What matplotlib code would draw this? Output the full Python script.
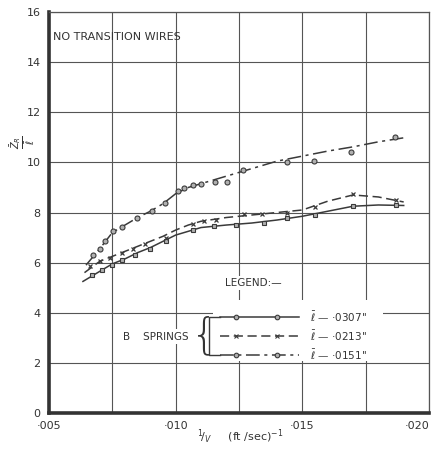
import matplotlib
matplotlib.use('Agg')
import matplotlib.pyplot as plt
from matplotlib.patches import Rectangle
from matplotlib.ticker import MultipleLocator, FuncFormatter

# кривые (1/V, Z_R/l)
curve_a_x = [0.00634, 0.0070, 0.0075, 0.0080, 0.0085, 0.0090, 0.0095, 0.0100, 0.0105, 0.0110,
             0.0120, 0.0130, 0.0140, 0.0150, 0.0160, 0.0170, 0.0180, 0.0190]
curve_a_y = [5.25, 5.65, 5.95, 6.15, 6.4, 6.6, 6.85, 7.1, 7.25, 7.4,
             7.5, 7.58, 7.7, 7.85, 8.05, 8.25, 8.3, 8.28]
curve_b_x = [0.0064, 0.0070, 0.0075, 0.0080, 0.0085, 0.0090, 0.0095, 0.0100, 0.0105, 0.0110,
             0.0120, 0.0130, 0.0140, 0.0150, 0.0160, 0.0170, 0.0180, 0.0190]
curve_b_y = [5.6, 6.05, 6.25, 6.45, 6.65, 6.85, 7.05, 7.3, 7.5, 7.65,
             7.8, 7.9, 8.0, 8.1, 8.45, 8.7, 8.62, 8.42]
curve_c_x = [0.00646, 0.0070, 0.0075, 0.0080, 0.0085, 0.0090, 0.0095, 0.0100, 0.0105, 0.0110,
             0.0115, 0.0120, 0.0130, 0.0140, 0.0150, 0.0160, 0.0170, 0.0180, 0.0190]
curve_c_y = [5.9, 6.55, 7.2, 7.5, 7.8, 8.05, 8.35, 8.75, 9.0, 9.15,
             9.3, 9.45, 9.75, 10.05, 10.25, 10.45, 10.62, 10.82, 10.98]

# точки
pts_a_x = [0.0067, 0.0071, 0.0075, 0.0079, 0.0084, 0.0090, 0.0096, 0.0107, 0.0115, 0.0124,
           0.0135, 0.0144, 0.0155, 0.0170, 0.0187]
pts_a_y = [5.5, 5.7, 5.9, 6.1, 6.3, 6.55, 6.85, 7.3, 7.45, 7.5,
           7.6, 7.8, 7.9, 8.25, 8.28]
pts_b_x = [0.0066, 0.0070, 0.0074, 0.0079, 0.0083, 0.0088, 0.0096, 0.0107, 0.0111, 0.0116,
           0.0127, 0.0134, 0.0144, 0.0155, 0.0170, 0.0187]
pts_b_y = [5.85, 6.05, 6.2, 6.4, 6.55, 6.75, 7.0, 7.55, 7.65, 7.7,
           7.95, 7.95, 8.0, 8.2, 8.72, 8.5]
pts_c_x = [0.00674, 0.00701, 0.00721, 0.00753, 0.00788, 0.00847, 0.00907, 0.00958, 0.01009, 0.01033,
           0.01068, 0.01100, 0.01155, 0.01203, 0.01266, 0.01439, 0.01546, 0.01692, 0.01866]
pts_c_y = [6.30, 6.54, 6.86, 7.26, 7.42, 7.78, 8.06, 8.38, 8.86, 8.98,
           9.10, 9.14, 9.22, 9.22, 9.70, 10.02, 10.06, 10.42, 11.01]

legend_labels = ['·0307"', '·0213"', '·0151"']

ink = '#3a3a3a'
dash_b = (0, (6, 3))
dash_c = (0, (9, 3, 2, 3))

fig = plt.figure(figsize=(4.36, 4.53), dpi=100)
ax = fig.add_axes([0.1124, 0.0883, 0.8716, 0.8852])

ax.plot(curve_a_x, curve_a_y, color=ink, lw=1.1, ls='-', zorder=3)
ax.plot(curve_b_x, curve_b_y, color=ink, lw=1.1, ls=dash_b, zorder=3)
ax.plot(curve_c_x, curve_c_y, color=ink, lw=1.1, ls=dash_c, zorder=3)
ax.plot(pts_a_x, pts_a_y, 's', ms=3.3, mfc='#b0b0b0', mec=ink, mew=0.8, zorder=4)
ax.plot(pts_b_x, pts_b_y, 'x', ms=3.3, mec=ink, mew=0.9, zorder=4)
ax.plot(pts_c_x, pts_c_y, 'o', ms=3.6, mfc='#b0b0b0', mec=ink, mew=0.8, zorder=4)

ax.set_xlim(0.005, 0.020)
ax.set_ylim(0, 16)
ax.xaxis.set_major_locator(MultipleLocator(0.0025))
ax.yaxis.set_major_locator(MultipleLocator(2))


def xfmt(v, pos):
    if abs(v * 1000 - round(v * 1000)) < 1e-6 and round(v * 1000) % 5 == 0:
        return '·%03d' % round(v * 1000)
    return ''


ax.xaxis.set_major_formatter(FuncFormatter(xfmt))
ax.tick_params(length=0, labelsize=8, colors='#333333', pad=6)
ax.grid(True, color='#555555', lw=0.8)
for s in ['top', 'right']:
    ax.spines[s].set_linewidth(0.9)
    ax.spines[s].set_color('#555555')
for s in ['left', 'bottom']:
    ax.spines[s].set_linewidth(2.6)
    ax.spines[s].set_color('#333333')

# белое поле под легендой
ax.add_patch(Rectangle((0.01147, 2.08), 0.0067, 2.42, facecolor='white', edgecolor='none', zorder=1.7))

ax.text(0.00515, 15.0, 'NO TRANSITION WIRES', fontsize=8, color='#333333', va='center')
ax.text(0.01195, 5.2, 'LEGEND:—', fontsize=7.5, color='#333333', va='center',
        bbox=dict(facecolor='white', edgecolor='none', pad=1.5), zorder=2)
ax.text(0.00792, 3.05, 'B    SPRINGS', fontsize=7.5, color='#333333', va='center',
        bbox=dict(facecolor='white', edgecolor='none', pad=1.5), zorder=2)
ax.text(0.01112, 3.07, '{', fontsize=30, color='#333333', va='center', ha='center',
        fontweight='light', zorder=3)
ax.plot([0.01175, 0.0113, 0.0113, 0.01175], [3.85, 3.85, 2.3, 2.3], color=ink, lw=1.0, zorder=3)

# строки легенды
leg_y = [3.83, 3.07, 2.31]
leg_styles = ['-', dash_b, dash_c]
leg_markers = ['o', 'x', 'o']
for i in range(3):
    ax.plot([0.01175, 0.01485], [leg_y[i], leg_y[i]], color=ink, lw=1.1, ls=leg_styles[i], zorder=3)
    ax.plot([0.01240, 0.01400], [leg_y[i], leg_y[i]], leg_markers[i], ms=3.3,
            mfc='#b0b0b0', mec=ink, mew=0.8, zorder=4)
    ax.text(0.0153, leg_y[i], r'$\bar{\ell}$ — ' + legend_labels[i], fontsize=7.5,
            color='#333333', va='center', zorder=3)

ax.text(-0.07, 0.675, r'$\frac{\bar{Z}_R}{\bar{\ell}}$', transform=ax.transAxes, fontsize=10,
        rotation=90, color='#333333', ha='center', va='center')
fig.text(0.55, 0.035, r'$^1\!/_V$     (ft /sec)$^{-1}$', fontsize=8, color='#333333',
         ha='center', va='center')

fig.canvas.draw()
ax.xaxis.get_major_ticks()[-1].label1.set_horizontalalignment('right')
for t in ax.xaxis.get_major_ticks():
    if abs(t.get_loc() - 0.020) < 1e-9:
        t.label1.set_horizontalalignment('right')

plt.savefig('out.png', dpi=100)
